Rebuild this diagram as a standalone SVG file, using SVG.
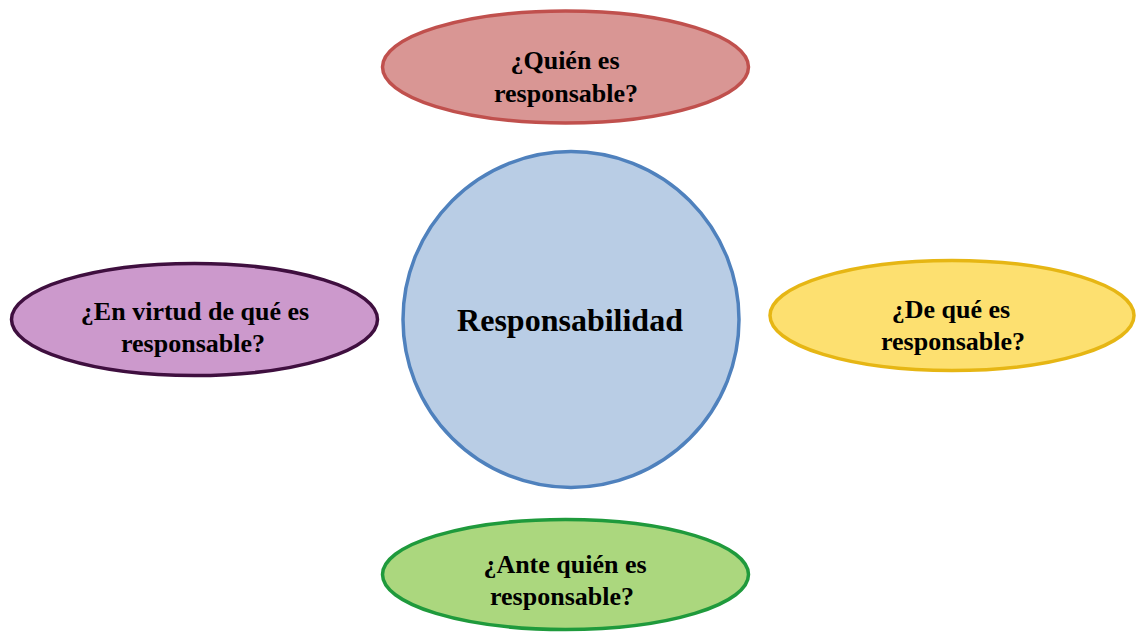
<svg xmlns="http://www.w3.org/2000/svg" width="1138" height="632" viewBox="0 0 1138 632">
<style>
text{font-family:"Liberation Serif","Times New Roman",serif;font-weight:bold;fill:#000;text-anchor:middle}
.q{font-size:26px}
.c{font-size:32px}
ellipse,circle{stroke-width:3.5}
</style>
<rect width="1138" height="632" fill="#fff"/>
<g id="connectors"></g>
<g id="center">
<circle cx="571" cy="319.5" r="168" fill="#b9cde5" stroke="#4f81bd"/>
<text class="c" x="570" y="331">Responsabilidad</text>
</g>
<g id="quien">
<ellipse cx="565.5" cy="67" rx="183" ry="56" fill="#d99694" stroke="#c0504d"/>
<text class="q" x="565" y="69">¿Quién es</text>
<text class="q" x="566" y="102">responsable?</text>
</g>
<g id="virtud">
<ellipse cx="194.5" cy="319.5" rx="183" ry="56" fill="#cc99cc" stroke="#3f0f3f"/>
<text class="q" x="195" y="320">¿En virtud de qué es</text>
<text class="q" x="193" y="352">responsable?</text>
</g>
<g id="deque">
<ellipse cx="952" cy="315.5" rx="182" ry="55" fill="#fde070" stroke="#e6b614"/>
<text class="q" x="951" y="318">¿De qué es</text>
<text class="q" x="953" y="350">responsable?</text>
</g>
<g id="ante">
<ellipse cx="565.5" cy="574.5" rx="183" ry="55" fill="#abd77e" stroke="#1f9a3c"/>
<text class="q" x="565" y="573">¿Ante quién es</text>
<text class="q" x="562" y="605">responsable?</text>
</g>
</svg>
